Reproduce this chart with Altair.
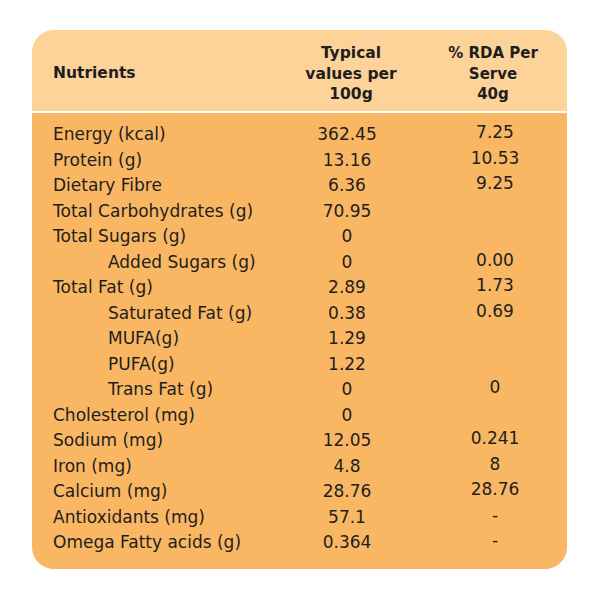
import altair as alt
import pandas as pd

nutrients = [
    "Energy (kcal)", "Protein (g)", "Dietary Fibre", "Total Carbohydrates (g)",
    "Total Sugars (g)", "Added Sugars (g)", "Total Fat (g)", "Saturated Fat (g)",
    "MUFA(g)", "PUFA(g)", "Trans Fat (g)", "Cholesterol (mg)", "Sodium (mg)",
    "Iron (mg)", "Calcium (mg)", "Antioxidants (mg)", "Omega Fatty acids (g)",
]
indent_level = [0, 0, 0, 0, 0, 1, 0, 1, 1, 1, 1, 0, 0, 0, 0, 0, 0]
per_100g = ["362.45", "13.16", "6.36", "70.95", "0", "0", "2.89", "0.38",
            "1.29", "1.22", "0", "0", "12.05", "4.8", "28.76", "57.1", "0.364"]
rda_per_serve = ["7.25", "10.53", "9.25", "", "", "0.00", "1.73", "0.69",
                 "", "", "0", "", "0.241", "8", "28.76", "-", "-"]
headers = ["Nutrients", "Typical\nvalues per\n100g", "% RDA Per\nServe\n40g"]

FONT = "DejaVu Sans"
TXT = "#1e1e1e"

df = pd.DataFrame({
    "row": list(range(len(nutrients))),
    "name": nutrients,
    "level": indent_level,
    "v100": per_100g,
    "rda": rda_per_serve,
})

yscale = alt.Scale(domain=[0, 16], range=[127, 535])
yenc = alt.Y("row:Q", scale=yscale, axis=None)

one = pd.DataFrame({"a": [0]})

header_bg = alt.Chart(one).mark_rect(
    color="#FDD39A", cornerRadiusTopLeft=22, cornerRadiusTopRight=22
).encode(x=alt.value(24), x2=alt.value(559), y=alt.value(22), y2=alt.value(103))

body_bg = alt.Chart(one).mark_rect(
    color="#F9B764", cornerRadiusBottomLeft=22, cornerRadiusBottomRight=22
).encode(x=alt.value(24), x2=alt.value(559), y=alt.value(105), y2=alt.value(561))

hdf = pd.DataFrame({"h": headers})

h1 = alt.Chart(hdf.iloc[[0]]).mark_text(
    font=FONT, fontSize=15.5, fontWeight="bold", align="left", baseline="middle", color=TXT
).encode(text="h:N", x=alt.value(45), y=alt.value(65))

h2 = alt.Chart(hdf.iloc[[1]]).mark_text(
    font=FONT, fontSize=15.5, fontWeight="bold", align="center", baseline="middle",
    color=TXT, lineBreak="\n", lineHeight=20.5
).encode(text="h:N", x=alt.value(343), y=alt.value(45))

h3 = alt.Chart(hdf.iloc[[2]]).mark_text(
    font=FONT, fontSize=15, fontWeight="bold", align="center", baseline="middle",
    color=TXT, lineBreak="\n", lineHeight=20.5
).encode(text="h:N", x=alt.value(485), y=alt.value(45))

names = alt.Chart(df).mark_text(
    font=FONT, fontSize=17, align="left", baseline="middle", color=TXT
).encode(
    text="name:N",
    x=alt.X("level:Q", scale=alt.Scale(domain=[0, 1], range=[45, 100]), axis=None),
    y=yenc,
)

vals = alt.Chart(df).mark_text(
    font=FONT, fontSize=17, align="center", baseline="middle", color=TXT
).encode(text="v100:N", x=alt.value(339), y=yenc)

rdas = alt.Chart(df).mark_text(
    font=FONT, fontSize=17, align="center", baseline="middle", color=TXT, dy=-2
).encode(text="rda:N", x=alt.value(487), y=yenc)

chart = alt.layer(header_bg, body_bg, h1, h2, h3, names, vals, rdas).properties(
    width=584, height=584, padding=0, autosize=alt.AutoSizeParams(type="none"),
    background="white",
).configure_view(stroke=None)

chart.save("out.html", embed_options={"renderer": "svg", "actions": False})
